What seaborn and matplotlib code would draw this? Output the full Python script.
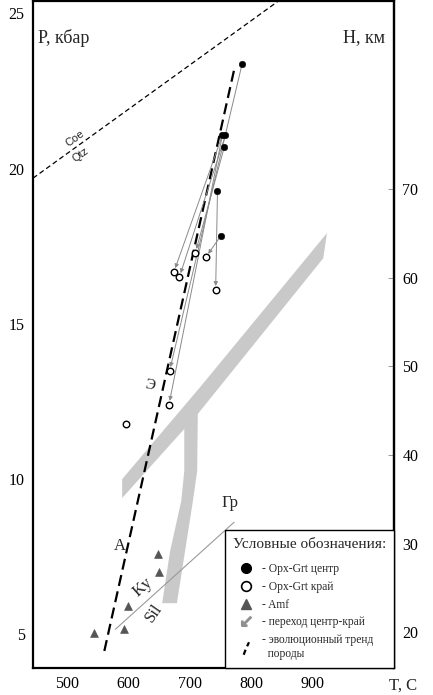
import numpy as np
import pandas as pd
import matplotlib
matplotlib.use("Agg")
import matplotlib.pyplot as plt
import seaborn as sns
from matplotlib.lines import Line2D
from matplotlib.path import Path

sns.set_theme(style="white")
plt.rcParams['font.family'] = ['Liberation Serif', 'DejaVu Serif']

# ---------------- data ----------------
center_T = [785, 753, 758, 756, 745, 750]
center_P = [23.37, 21.08, 21.08, 20.69, 19.27, 17.82]

rim_T = [674, 683, 709, 726, 742, 667, 666, 597]
rim_P = [16.66, 16.50, 17.28, 17.14, 16.08, 13.47, 12.38, 11.77]

amf_T = [648, 650, 600, 593, 544]
amf_P = [7.57, 6.99, 5.90, 5.15, 5.03]

# arrows centre -> rim (index into center / rim)
arrow_from = [0, 1, 2, 3, 4, 5, 1]
arrow_to   = [5, 0, 1, 2, 4, 3, 6]

trend_T = [561, 772]
trend_P = [4.45, 23.18]

coe_T = [445, 844]
coe_P = [19.69, 25.4]

kysil_T = [579, 772]
kysil_P = [5.15, 8.60]

band1_T = [923, 917, 713, 590, 590, 717]
band1_P = [17.92, 17.11, 12.09, 9.38, 9.99, 12.96]

band2_T = [691, 713, 712, 705, 679, 655, 668, 686, 691]
band2_P = [11.70, 12.18, 10.25, 9.28, 5.99, 5.99, 7.67, 9.28, 10.25]

x_ticks = [500, 600, 700, 800, 900, 1000]
x_ticklabels = ['500', '600', '700', '800', '900', '']
y_ticks = [5, 10, 15, 20, 25]
h_ticks = [20, 30, 40, 50, 60, 70]

legend_labels = ['- Opx-Grt центр', '- Opx-Grt край', '- Amf',
                 '- переход центр-край', '- эволюционный тренд\n  породы']

# ---------------- figure ----------------
fig = plt.figure(figsize=(4.33, 6.95), dpi=100)
ax = fig.add_axes([0.0762, 0.0388, 0.8337, 0.9597])
ax.set_xlim(445, 1032)
ax.set_ylim(3.9, 25.4)

# bands
ax.fill(band1_T, band1_P, color='#c9c9c9', lw=0, zorder=1)
ax.fill(band2_T, band2_P, color='#c9c9c9', lw=0, zorder=1)

# Coe/Qtz
ax.plot(coe_T, coe_P, ls=(0, (4, 2.5)), color='black', lw=0.9, zorder=2)
ax.text(513, 20.98, 'Coe', fontsize=8, rotation=36, ha='center', va='center',
        family=['Liberation Sans', 'DejaVu Sans'])
ax.text(522, 20.45, 'Qtz', fontsize=8, rotation=36, ha='center', va='center',
        family=['Liberation Sans', 'DejaVu Sans'])

# Ky/Sil
ax.plot(kysil_T, kysil_P, color='#9a9a9a', lw=0.8, zorder=2)

# trend
sns.lineplot(x=trend_T, y=trend_P, ax=ax, color='black', lw=1.6,
             linestyle=(0, (5, 2.5)), zorder=3, sort=False)

# arrows
for i, j in zip(arrow_from, arrow_to):
    ax.annotate('', xy=(rim_T[j], rim_P[j]), xytext=(center_T[i], center_P[i]),
                arrowprops=dict(arrowstyle='-|>', color='#8a8a8a', lw=0.7,
                                mutation_scale=6, shrinkA=2, shrinkB=3),
                zorder=3)

# markers
sns.scatterplot(x=center_T, y=center_P, ax=ax, marker='o', s=22,
                color='black', edgecolor='black', zorder=4)
sns.scatterplot(x=rim_T, y=rim_P, ax=ax, marker='o', s=22,
                facecolor='white', edgecolor='black', linewidth=1.0, zorder=4)
sns.scatterplot(x=amf_T, y=amf_P, ax=ax, marker='^', s=32,
                color='#555555', edgecolor='#555555', zorder=4)

# region labels
ax.text(587, 7.83, 'А', fontsize=12, ha='center', va='center')
ax.text(766, 9.22, 'Гр', fontsize=12, ha='center', va='center')
ax.text(624, 6.5, 'Ky', fontsize=12, rotation=42, ha='center', va='center')
ax.text(641, 5.67, 'Sil', fontsize=12, rotation=55, ha='center', va='center')
ax.text(635, 13.02, 'Э', fontsize=11, rotation=-10, ha='center', va='center',
        color='#222222')

# axes styling
for s in ax.spines.values():
    s.set_color('black')
    s.set_linewidth(1.6)
ax.set_xticks(x_ticks)
ax.set_xticklabels(x_ticklabels)
ax.set_yticks(y_ticks)
ax.tick_params(axis='both', direction='in', length=4, width=0.6, colors='#888888',
               labelcolor='black', labelsize=11.5, pad=6)
ax.tick_params(axis='x', length=2)
ax.set_xlabel('')
ax.set_ylabel('')

sec = ax.secondary_yaxis('right', functions=(lambda p: 3.504 * p + 2.27,
                                             lambda h: (h - 2.27) / 3.504))
sec.set_yticks(h_ticks)
sec.tick_params(direction='in', length=4, width=0.6, colors='#888888',
                labelcolor='black', labelsize=11.5, pad=6)
sec.spines['right'].set_linewidth(1.6)

ax.text(0.015, 0.945, 'P, кбар', transform=ax.transAxes, fontsize=13,
        ha='left', va='center')
ax.text(0.975, 0.945, 'H, км', transform=ax.transAxes, fontsize=13,
        ha='right', va='center')
ax.text(1.025, -0.027, 'T, C', transform=ax.transAxes, fontsize=12,
        ha='center', va='center', clip_on=False)

# legend
dash_path = Path([(-0.45, -1.0), (-0.15, -0.2), (0.1, 0.35), (0.4, 1.0)],
                 [Path.MOVETO, Path.LINETO, Path.MOVETO, Path.LINETO])
handles = [
    Line2D([], [], marker='o', ls='', color='black', markersize=7),
    Line2D([], [], marker='o', ls='', markerfacecolor='white',
           markeredgecolor='black', markeredgewidth=1.2, markersize=7),
    Line2D([], [], marker='^', ls='', color='#555555', markersize=7),
    Line2D([], [], marker=r'$\swarrow$', ls='', color='#909090', markersize=7),
    Line2D([], [], marker=dash_path, ls='', color='black', markersize=9,
           markeredgewidth=1.6),
]
leg = ax.legend(handles, legend_labels, loc='lower right', bbox_to_anchor=(1, 0),
                borderaxespad=0, frameon=True, fancybox=False, framealpha=1,
                edgecolor='black', title='Условные обозначения:',
                title_fontsize=11, fontsize=8.3, alignment='left',
                handlelength=2.3, handletextpad=0.25, labelspacing=0.5,
                borderpad=0.7)
leg.get_frame().set_linewidth(1.0)
leg._legend_box.sep = 9

fig.savefig('out.png', dpi=100)
